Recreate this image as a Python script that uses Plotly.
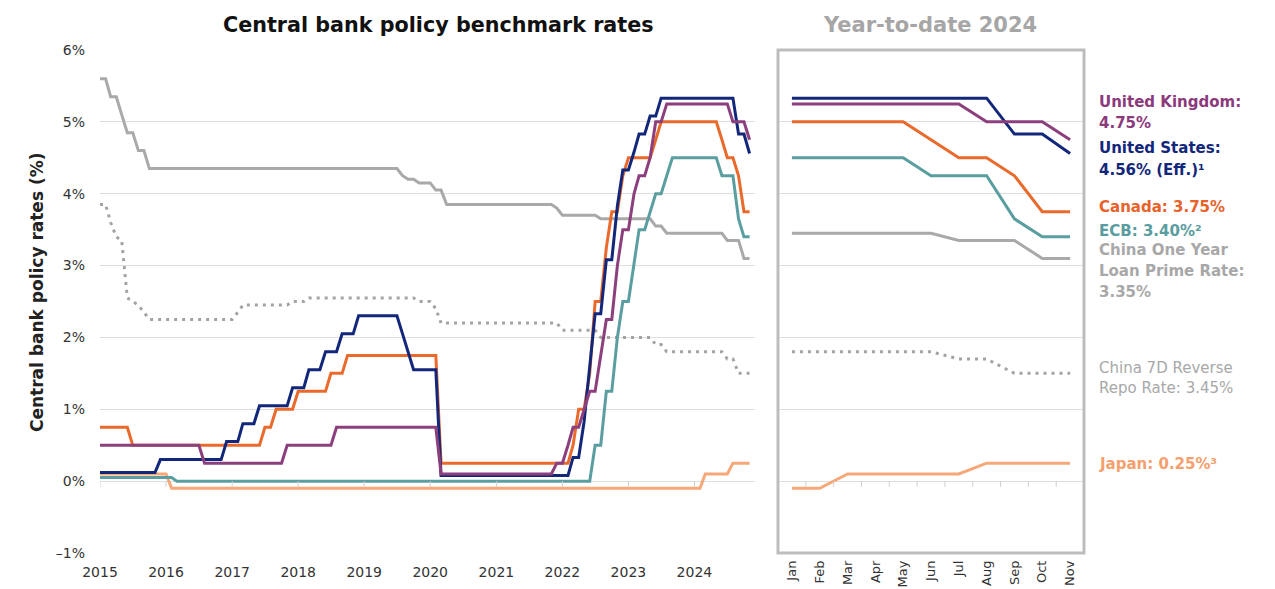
import pandas as pd
import plotly.graph_objects as go

# ---------------- DATA (monthly, Jan 2015 - Nov 2024) ----------------
months = pd.date_range("2015-01-01", periods=119, freq="MS")
year_ticks = ["2015", "2016", "2017", "2018", "2019", "2020", "2021", "2022", "2023", "2024"]
ytd_months = ["Jan", "Feb", "Mar", "Apr", "May", "Jun", "Jul", "Aug", "Sep", "Oct", "Nov"]
y_ticks = [-1, 0, 1, 2, 3, 4, 5, 6]
y_ticktext = ["\u20131%", "0%", "1%", "2%", "3%", "4%", "5%", "6%"]

us = [
    0.12, 0.12, 0.12, 0.12, 0.12, 0.12, 0.12, 0.12, 0.12, 0.12, 0.12, 0.30,
    0.30, 0.30, 0.30, 0.30, 0.30, 0.30, 0.30, 0.30, 0.30, 0.30, 0.30, 0.55,
    0.55, 0.55, 0.80, 0.80, 0.80, 1.05, 1.05, 1.05, 1.05, 1.05, 1.05, 1.30,
    1.30, 1.30, 1.55, 1.55, 1.55, 1.80, 1.80, 1.80, 2.05, 2.05, 2.05, 2.30,
    2.30, 2.30, 2.30, 2.30, 2.30, 2.30, 2.30, 2.05, 1.80, 1.55, 1.55, 1.55,
    1.55, 1.55, 0.08, 0.08, 0.08, 0.08, 0.08, 0.08, 0.08, 0.08, 0.08, 0.08,
    0.08, 0.08, 0.08, 0.08, 0.08, 0.08, 0.08, 0.08, 0.08, 0.08, 0.08, 0.08,
    0.08, 0.08, 0.33, 0.33, 0.83, 1.58, 2.33, 2.33, 3.08, 3.08, 3.83, 4.33,
    4.33, 4.58, 4.83, 4.83, 5.08, 5.08, 5.33, 5.33, 5.33, 5.33, 5.33, 5.33,
    5.33, 5.33, 5.33, 5.33, 5.33, 5.33, 5.33, 5.33, 4.83, 4.83, 4.56,
]
uk = [
    0.50, 0.50, 0.50, 0.50, 0.50, 0.50, 0.50, 0.50, 0.50, 0.50, 0.50, 0.50,
    0.50, 0.50, 0.50, 0.50, 0.50, 0.50, 0.50, 0.25, 0.25, 0.25, 0.25, 0.25,
    0.25, 0.25, 0.25, 0.25, 0.25, 0.25, 0.25, 0.25, 0.25, 0.25, 0.50, 0.50,
    0.50, 0.50, 0.50, 0.50, 0.50, 0.50, 0.50, 0.75, 0.75, 0.75, 0.75, 0.75,
    0.75, 0.75, 0.75, 0.75, 0.75, 0.75, 0.75, 0.75, 0.75, 0.75, 0.75, 0.75,
    0.75, 0.75, 0.10, 0.10, 0.10, 0.10, 0.10, 0.10, 0.10, 0.10, 0.10, 0.10,
    0.10, 0.10, 0.10, 0.10, 0.10, 0.10, 0.10, 0.10, 0.10, 0.10, 0.10, 0.25,
    0.25, 0.50, 0.75, 0.75, 1.00, 1.25, 1.25, 1.75, 2.25, 2.25, 3.00, 3.50,
    3.50, 4.00, 4.25, 4.25, 4.50, 5.00, 5.00, 5.25, 5.25, 5.25, 5.25, 5.25,
    5.25, 5.25, 5.25, 5.25, 5.25, 5.25, 5.25, 5.00, 5.00, 5.00, 4.75,
]
canada = [
    0.75, 0.75, 0.75, 0.75, 0.75, 0.75, 0.50, 0.50, 0.50, 0.50, 0.50, 0.50,
    0.50, 0.50, 0.50, 0.50, 0.50, 0.50, 0.50, 0.50, 0.50, 0.50, 0.50, 0.50,
    0.50, 0.50, 0.50, 0.50, 0.50, 0.50, 0.75, 0.75, 1.00, 1.00, 1.00, 1.00,
    1.25, 1.25, 1.25, 1.25, 1.25, 1.25, 1.50, 1.50, 1.50, 1.75, 1.75, 1.75,
    1.75, 1.75, 1.75, 1.75, 1.75, 1.75, 1.75, 1.75, 1.75, 1.75, 1.75, 1.75,
    1.75, 1.75, 0.25, 0.25, 0.25, 0.25, 0.25, 0.25, 0.25, 0.25, 0.25, 0.25,
    0.25, 0.25, 0.25, 0.25, 0.25, 0.25, 0.25, 0.25, 0.25, 0.25, 0.25, 0.25,
    0.25, 0.25, 0.50, 1.00, 1.00, 1.50, 2.50, 2.50, 3.25, 3.75, 3.75, 4.25,
    4.50, 4.50, 4.50, 4.50, 4.50, 4.75, 5.00, 5.00, 5.00, 5.00, 5.00, 5.00,
    5.00, 5.00, 5.00, 5.00, 5.00, 4.75, 4.50, 4.50, 4.25, 3.75, 3.75,
]
ecb = [
    0.05, 0.05, 0.05, 0.05, 0.05, 0.05, 0.05, 0.05, 0.05, 0.05, 0.05, 0.05,
    0.05, 0.05, 0.00, 0.00, 0.00, 0.00, 0.00, 0.00, 0.00, 0.00, 0.00, 0.00,
    0.00, 0.00, 0.00, 0.00, 0.00, 0.00, 0.00, 0.00, 0.00, 0.00, 0.00, 0.00,
    0.00, 0.00, 0.00, 0.00, 0.00, 0.00, 0.00, 0.00, 0.00, 0.00, 0.00, 0.00,
    0.00, 0.00, 0.00, 0.00, 0.00, 0.00, 0.00, 0.00, 0.00, 0.00, 0.00, 0.00,
    0.00, 0.00, 0.00, 0.00, 0.00, 0.00, 0.00, 0.00, 0.00, 0.00, 0.00, 0.00,
    0.00, 0.00, 0.00, 0.00, 0.00, 0.00, 0.00, 0.00, 0.00, 0.00, 0.00, 0.00,
    0.00, 0.00, 0.00, 0.00, 0.00, 0.00, 0.50, 0.50, 1.25, 1.25, 2.00, 2.50,
    2.50, 3.00, 3.50, 3.50, 3.75, 4.00, 4.00, 4.25, 4.50, 4.50, 4.50, 4.50,
    4.50, 4.50, 4.50, 4.50, 4.50, 4.25, 4.25, 4.25, 3.65, 3.40, 3.40,
]
japan = [
    0.10, 0.10, 0.10, 0.10, 0.10, 0.10, 0.10, 0.10, 0.10, 0.10, 0.10, 0.10,
    0.10, -0.10, -0.10, -0.10, -0.10, -0.10, -0.10, -0.10, -0.10, -0.10, -0.10, -0.10,
    -0.10, -0.10, -0.10, -0.10, -0.10, -0.10, -0.10, -0.10, -0.10, -0.10, -0.10, -0.10,
    -0.10, -0.10, -0.10, -0.10, -0.10, -0.10, -0.10, -0.10, -0.10, -0.10, -0.10, -0.10,
    -0.10, -0.10, -0.10, -0.10, -0.10, -0.10, -0.10, -0.10, -0.10, -0.10, -0.10, -0.10,
    -0.10, -0.10, -0.10, -0.10, -0.10, -0.10, -0.10, -0.10, -0.10, -0.10, -0.10, -0.10,
    -0.10, -0.10, -0.10, -0.10, -0.10, -0.10, -0.10, -0.10, -0.10, -0.10, -0.10, -0.10,
    -0.10, -0.10, -0.10, -0.10, -0.10, -0.10, -0.10, -0.10, -0.10, -0.10, -0.10, -0.10,
    -0.10, -0.10, -0.10, -0.10, -0.10, -0.10, -0.10, -0.10, -0.10, -0.10, -0.10, -0.10,
    -0.10, -0.10, 0.10, 0.10, 0.10, 0.10, 0.10, 0.25, 0.25, 0.25, 0.25,
]
china_lpr = [
    5.60, 5.60, 5.35, 5.35, 5.10, 4.85, 4.85, 4.60, 4.60, 4.35, 4.35, 4.35,
    4.35, 4.35, 4.35, 4.35, 4.35, 4.35, 4.35, 4.35, 4.35, 4.35, 4.35, 4.35,
    4.35, 4.35, 4.35, 4.35, 4.35, 4.35, 4.35, 4.35, 4.35, 4.35, 4.35, 4.35,
    4.35, 4.35, 4.35, 4.35, 4.35, 4.35, 4.35, 4.35, 4.35, 4.35, 4.35, 4.35,
    4.35, 4.35, 4.35, 4.35, 4.35, 4.35, 4.35, 4.25, 4.20, 4.20, 4.15, 4.15,
    4.15, 4.05, 4.05, 3.85, 3.85, 3.85, 3.85, 3.85, 3.85, 3.85, 3.85, 3.85,
    3.85, 3.85, 3.85, 3.85, 3.85, 3.85, 3.85, 3.85, 3.85, 3.85, 3.85, 3.80,
    3.70, 3.70, 3.70, 3.70, 3.70, 3.70, 3.70, 3.65, 3.65, 3.65, 3.65, 3.65,
    3.65, 3.65, 3.65, 3.65, 3.65, 3.55, 3.55, 3.45, 3.45, 3.45, 3.45, 3.45,
    3.45, 3.45, 3.45, 3.45, 3.45, 3.45, 3.35, 3.35, 3.35, 3.10, 3.10,
]
china_7d = [
    3.85, 3.85, 3.60, 3.40, 3.35, 2.55, 2.50, 2.45, 2.35, 2.25, 2.25, 2.25,
    2.25, 2.25, 2.25, 2.25, 2.25, 2.25, 2.25, 2.25, 2.25, 2.25, 2.25, 2.25,
    2.25, 2.35, 2.45, 2.45, 2.45, 2.45, 2.45, 2.45, 2.45, 2.45, 2.45, 2.50,
    2.50, 2.50, 2.55, 2.55, 2.55, 2.55, 2.55, 2.55, 2.55, 2.55, 2.55, 2.55,
    2.55, 2.55, 2.55, 2.55, 2.55, 2.55, 2.55, 2.55, 2.55, 2.55, 2.50, 2.50,
    2.50, 2.40, 2.20, 2.20, 2.20, 2.20, 2.20, 2.20, 2.20, 2.20, 2.20, 2.20,
    2.20, 2.20, 2.20, 2.20, 2.20, 2.20, 2.20, 2.20, 2.20, 2.20, 2.20, 2.20,
    2.10, 2.10, 2.10, 2.10, 2.10, 2.10, 2.10, 2.00, 2.00, 2.00, 2.00, 2.00,
    2.00, 2.00, 2.00, 2.00, 2.00, 1.90, 1.90, 1.80, 1.80, 1.80, 1.80, 1.80,
    1.80, 1.80, 1.80, 1.80, 1.80, 1.80, 1.70, 1.70, 1.50, 1.50, 1.50,
]

# end-of-series labels: (lines, colour, bold)
labels = [
    (["United Kingdom:", "4.75%"], "#8B3A7C", True),
    (["United States:", "4.56% (Eff.)\u00b9"], "#13277A", True),
    (["Canada: 3.75%"], "#E8622A", True),
    (["ECB: 3.40%\u00b2"], "#5A9CA0", True),
    (["China One Year", "Loan Prime Rate:", "3.35%"], "#A8A8A8", True),
    (["China 7D Reverse", "Repo Rate: 3.45%"], "#A8A8A8", False),
    (["Japan: 0.25%\u00b3"], "#F5A06E", True),
]

for s in (us, uk, canada, ecb, japan, china_lpr, china_7d):
    assert len(s) == 119, len(s)

# ---------------- STYLES ----------------
FONT = "DejaVu Sans"
series = [
    (china_lpr, "#A9A9A9", "solid"),
    (china_7d, "#A3A3A3", "3px,5px"),
    (japan, "#F6A878", "solid"),
    (ecb, "#5B9EA0", "solid"),
    (canada, "#EA6A2C", "solid"),
    (us, "#13277A", "solid"),
    (uk, "#8C3F7D", "solid"),
]

fig = go.Figure()
for vals, col, dash in series:
    fig.add_trace(go.Scatter(x=months, y=vals, mode="lines", xaxis="x", yaxis="y",
                             line=dict(color=col, width=3, dash=dash), hoverinfo="skip"))
for vals, col, dash in series:
    fig.add_trace(go.Scatter(x=ytd_months, y=vals[-11:], mode="lines", xaxis="x2", yaxis="y2",
                             line=dict(color=col, width=3, dash=dash), hoverinfo="skip"))

W, H = 1275, 589
T, B = 50, 36
PH = H - T - B


def px_x(px):
    return px / W


def px_y(py):
    return (H - B - py) / PH


grid = "#DEDEDE"
tickfont = dict(family=FONT, size=14, color="#333333")
monthfont = dict(family=FONT, size=13, color="#333333")
fig.update_layout(
    width=W, height=H,
    margin=dict(l=0, r=0, t=T, b=B, autoexpand=False),
    plot_bgcolor="white", paper_bgcolor="white",
    showlegend=False,
    font=dict(family=FONT, color="#333333"),
    xaxis=dict(domain=[px_x(100), px_x(755)], type="date", automargin=False,
               range=["2015-01-01", "2024-12-01"],
               tickvals=[f"{y}-01-01" for y in year_ticks], ticktext=year_ticks,
               showgrid=False, zeroline=False, showline=False, ticks="",
               tickfont=tickfont, ticklabelstandoff=9),
    yaxis=dict(domain=[0, 1], range=[-1, 6], tickvals=y_ticks, ticktext=y_ticktext,
               automargin=False,
               showgrid=True, gridcolor=grid, gridwidth=1, zeroline=False, showline=False,
               ticks="", tickfont=tickfont, ticklabelstandoff=14),
    xaxis2=dict(domain=[px_x(778), px_x(1084)], anchor="y2", type="category",
                automargin=False,
                range=[-0.5, 10.5], tickangle=-90, showgrid=False, zeroline=False,
                showline=False, ticks="", tickfont=monthfont, ticklabelstandoff=4),
    yaxis2=dict(domain=[0, 1], anchor="x2", range=[-1, 6], tickvals=y_ticks,
                automargin=False,
                showticklabels=False, showgrid=True, gridcolor=grid, gridwidth=1,
                zeroline=False, showline=False, ticks=""),
)

shapes = []
for y in year_ticks:
    shapes.append(dict(type="line", xref="x", yref="y", x0=f"{y}-01-01", x1=f"{y}-01-01",
                       y0=0, y1=-0.08, line=dict(color="#CFCFCF", width=1)))
for k in range(1, len(ytd_months)):
    shapes.append(dict(type="line", xref="x2", yref="y2", x0=k - 0.5, x1=k - 0.5,
                       y0=0, y1=-0.08, line=dict(color="#CFCFCF", width=1)))
shapes.append(dict(type="rect", xref="x2 domain", yref="y2 domain", x0=0, x1=1, y0=0, y1=1,
                   line=dict(color="#BDBDBD", width=3), fillcolor="rgba(0,0,0,0)"))
fig.update_layout(shapes=shapes)

ann = [
    dict(text="<b>Central bank policy benchmark rates</b>", x=px_x(438), y=px_y(25),
         font=dict(size=20.7, color="#111111")),
    dict(text="<b>Year-to-date 2024</b>", x=px_x(930), y=px_y(25),
         font=dict(size=21, color="#A6A6A6")),
    dict(text="<b>Central bank policy rates (%)</b>", x=px_x(37), y=px_y(292), textangle=-90,
         font=dict(size=17, color="#222222")),
]
label_rows = [[102, 123], [148, 170], [207], [231], [250, 271, 292], [368, 388], [464]]
for (lines, col, bold), rows in zip(labels, label_rows):
    for txt, py in zip(lines, rows):
        ann.append(dict(text=f"<b>{txt}</b>" if bold else txt, x=px_x(1097), y=px_y(py),
                        xanchor="left", align="left", font=dict(size=15, color=col)))
for a in ann:
    a.setdefault("xanchor", "center")
    a.update(xref="paper", yref="paper", yanchor="middle", showarrow=False)
fig.update_layout(annotations=ann)

fig.write_html("out.html")
